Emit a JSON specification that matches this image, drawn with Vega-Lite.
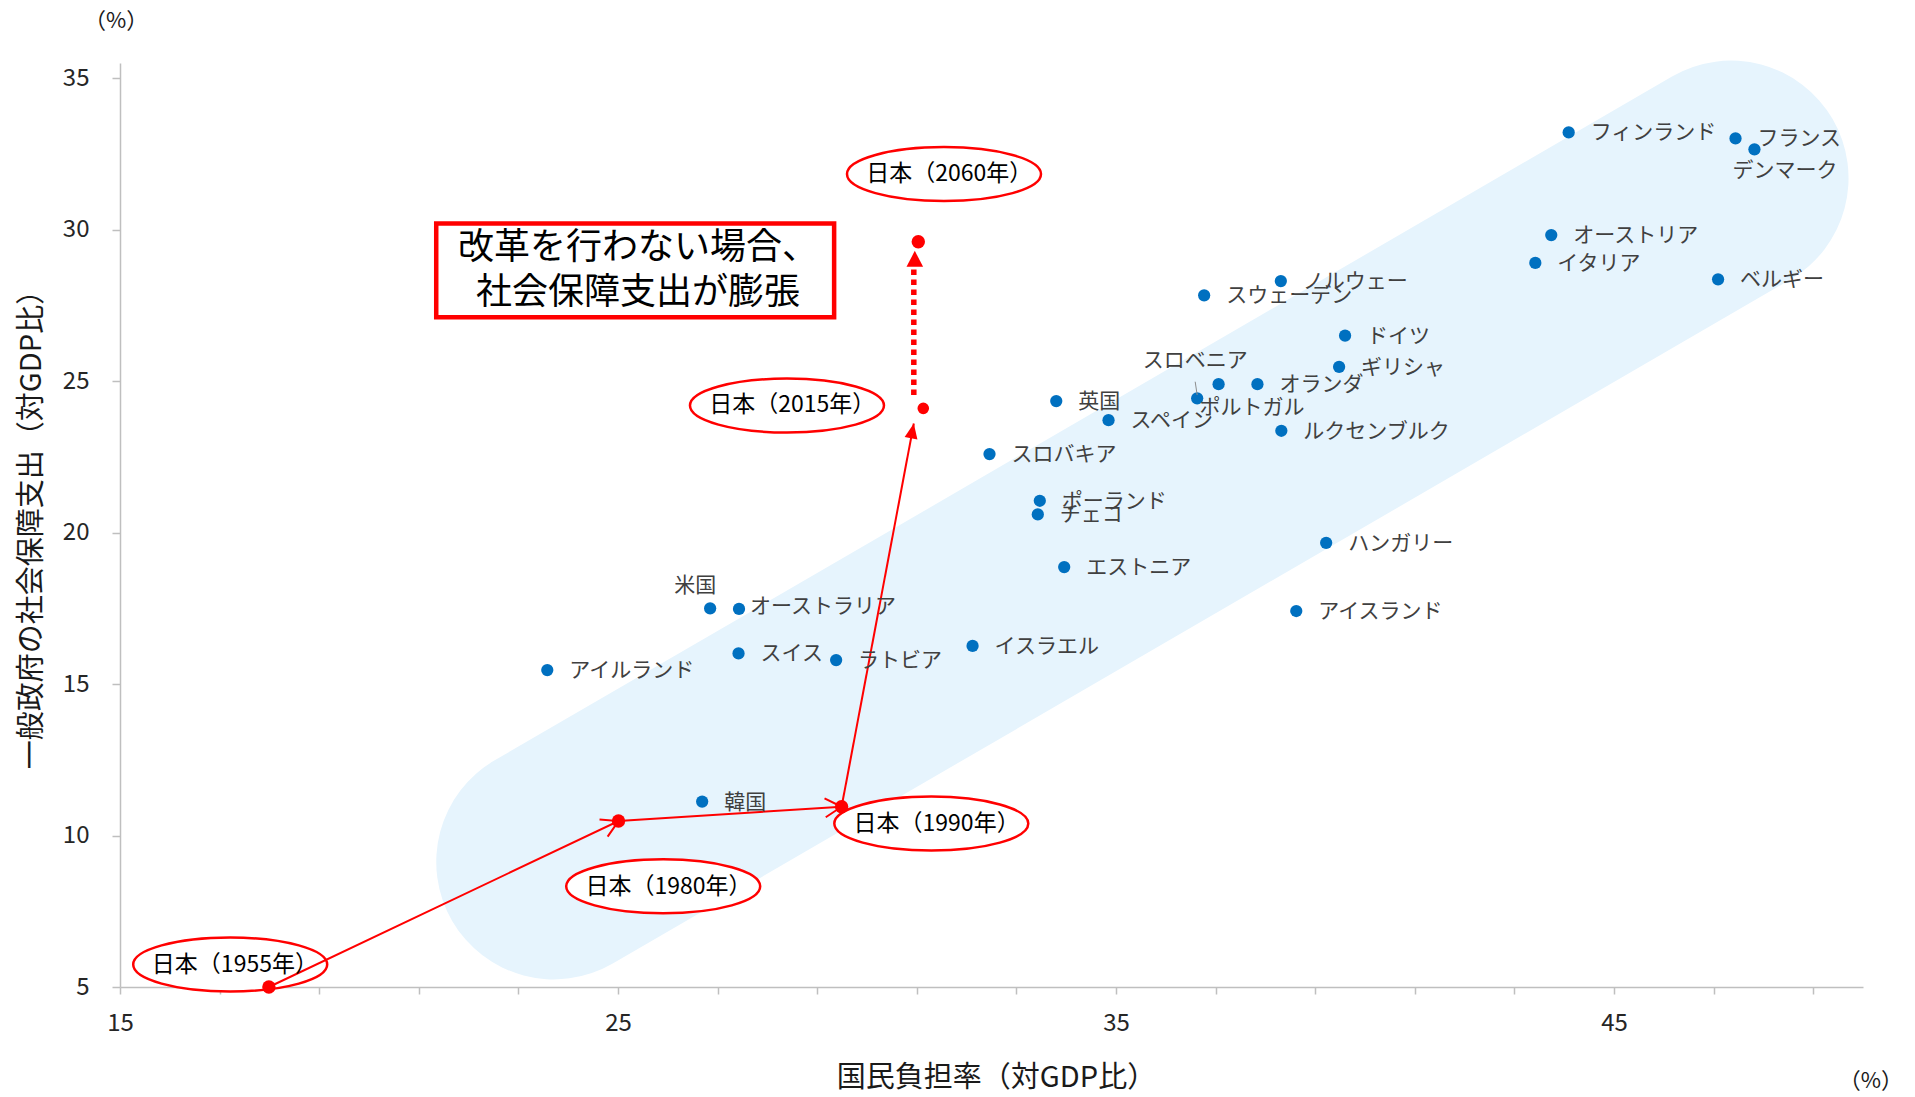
{
  "$schema": "https://vega.github.io/schema/vega-lite/v6.json",
  "width": 1743,
  "height": 924,
  "autosize": {"type": "none"},
  "padding": {"left": 120, "top": 63, "right": 52, "bottom": 110},
  "background": "white",
  "config": {"view": {"stroke": null}, "font": "Noto Sans CJK JP"},
  "datasets": {
    "countries": [
      {"name": "フィンランド", "burden": 44.09, "spending": 33.21},
      {"name": "フランス", "burden": 47.44, "spending": 33.01},
      {"name": "デンマーク", "burden": 47.82, "spending": 32.65},
      {"name": "オーストリア", "burden": 43.74, "spending": 29.82},
      {"name": "イタリア", "burden": 43.42, "spending": 28.90},
      {"name": "ベルギー", "burden": 47.09, "spending": 28.36},
      {"name": "ノルウェー", "burden": 38.31, "spending": 28.30},
      {"name": "スウェーデン", "burden": 36.77, "spending": 27.83},
      {"name": "ドイツ", "burden": 39.60, "spending": 26.50},
      {"name": "ギリシャ", "burden": 39.48, "spending": 25.47},
      {"name": "オランダ", "burden": 37.84, "spending": 24.90},
      {"name": "ポルトガル", "burden": 37.06, "spending": 24.90},
      {"name": "スロベニア", "burden": 36.63, "spending": 24.43},
      {"name": "英国", "burden": 33.80, "spending": 24.34},
      {"name": "スペイン", "burden": 34.85, "spending": 23.71},
      {"name": "ルクセンブルク", "burden": 38.32, "spending": 23.36},
      {"name": "スロバキア", "burden": 32.46, "spending": 22.59},
      {"name": "ポーランド", "burden": 33.47, "spending": 21.05},
      {"name": "チェコ", "burden": 33.43, "spending": 20.60},
      {"name": "ハンガリー", "burden": 39.22, "spending": 19.66},
      {"name": "エストニア", "burden": 33.96, "spending": 18.86},
      {"name": "アイスランド", "burden": 38.62, "spending": 17.41},
      {"name": "米国", "burden": 26.85, "spending": 17.50},
      {"name": "オーストラリア", "burden": 27.43, "spending": 17.48},
      {"name": "スイス", "burden": 27.42, "spending": 16.01},
      {"name": "ラトビア", "burden": 29.38, "spending": 15.79},
      {"name": "イスラエル", "burden": 32.12, "spending": 16.26},
      {"name": "アイルランド", "burden": 23.58, "spending": 15.46},
      {"name": "韓国", "burden": 26.69, "spending": 11.12}
    ],
    "japan": [
      {"year": 1955, "label": "日本（1955年）", "burden": 17.99, "spending": 5.0},
      {"year": 1980, "label": "日本（1980年）", "burden": 25.01, "spending": 10.48},
      {"year": 1990, "label": "日本（1990年）", "burden": 29.49, "spending": 10.95},
      {"year": 2015, "label": "日本（2015年）", "burden": 31.13, "spending": 24.10},
      {"year": 2060, "label": "日本（2060年）", "burden": 31.03, "spending": 29.60}
    ]
  },
  "layer": [
    {
      "data": {"name": "countries"},
      "mark": {"type": "circle", "opacity": 0},
      "encoding": {
        "x": {
          "field": "burden", "type": "quantitative",
          "scale": {"domain": [15, 50], "nice": false, "zero": false},
          "axis": {
            "values": [15, 17, 19, 21, 23, 25, 27, 29, 31, 33, 35, 37, 39, 41, 43, 45, 47, 49],
            "labelExpr": "(datum.value - 15) % 10 === 0 ? datum.label : ''",
            "grid": false, "domainColor": "#bfbfbf", "domainWidth": 1.5,
            "tickColor": "#bfbfbf", "tickWidth": 1.5, "tickSize": 7,
            "labelFontSize": 24, "labelColor": "#262626", "labelFont": "Noto Sans CJK JP",
            "labelPadding": 17, "labelFlush": false, "labelOverlap": false,
            "title": "国民負担率（対GDP比）", "titleFont": "Noto Sans CJK JP", "titleFontSize": 29,
            "titleFontWeight": "normal", "titleColor": "#1a1a1a",
            "titleX": 876, "titleY": 90, "titleAlign": "center", "titleBaseline": "middle"
          }
        },
        "y": {
          "field": "spending", "type": "quantitative",
          "scale": {"domain": [5, 35.5], "nice": false, "zero": false},
          "axis": {
            "values": [5, 10, 15, 20, 25, 30, 35],
            "grid": false, "domainColor": "#bfbfbf", "domainWidth": 1.5,
            "tickColor": "#bfbfbf", "tickWidth": 1.5, "tickSize": 8,
            "labelFontSize": 24, "labelColor": "#262626", "labelFont": "Noto Sans CJK JP",
            "labelPadding": 23, "labelFlush": false,
            "title": "一般政府の社会保障支出（対GDP比）", "titleFont": "Noto Sans CJK JP", "titleFontSize": 29,
            "titleFontWeight": "normal", "titleColor": "#1a1a1a",
            "titleX": -89, "titleY": 459, "titleAngle": -90, "titleAlign": "center", "titleBaseline": "middle"
          }
        }
      }
    },
    {
      "data": {"values": [{}]},
      "mark": {"type": "rule", "strokeWidth": 235, "strokeCap": "round", "color": "#e6f4fd"},
      "encoding": {
        "x": {"datum": 23.71, "type": "quantitative"},
        "y": {"datum": 9.13, "type": "quantitative"},
        "x2": {"datum": 47.35},
        "y2": {"datum": 31.70}
      }
    },
    {
      "data": {"name": "japan"},
      "mark": {"type": "point", "filled": true, "fill": "white", "stroke": "#ff0000", "strokeWidth": 2.5, "size": 40000, "opacity": 1, "fillOpacity": 1},
      "encoding": {
        "x": {"field": "burden", "type": "quantitative"},
        "y": {"field": "spending", "type": "quantitative"},
        "shape": {
          "field": "year", "type": "nominal", "legend": null,
          "scale": {
            "domain": [1955, 1980, 1990, 2015, 2060],
            "range": [
              "M 0.583 -0.225 C 0.583 -0.0759 0.1487 0.045 -0.387 0.045 C -0.9227 0.045 -1.357 -0.0759 -1.357 -0.225 C -1.357 -0.3741 -0.9227 -0.495 -0.387 -0.495 C 0.1487 -0.495 0.583 -0.3741 0.583 -0.225 Z",
              "M 1.417 0.653 C 1.417 0.8021 0.9827 0.923 0.447 0.923 C -0.0887 0.923 -0.523 0.8021 -0.523 0.653 C -0.523 0.5039 -0.0887 0.383 0.447 0.383 C 0.9827 0.383 1.417 0.5039 1.417 0.653 Z",
              "M 1.867 0.168 C 1.867 0.3171 1.4327 0.438 0.897 0.438 C 0.3613 0.438 -0.073 0.3171 -0.073 0.168 C -0.073 0.0189 0.3613 -0.102 0.897 -0.102 C 1.4327 -0.102 1.867 0.0189 1.867 0.168 Z",
              "M -0.393 -0.028 C -0.393 0.1211 -0.8273 0.242 -1.363 0.242 C -1.8987 0.242 -2.333 0.1211 -2.333 -0.028 C -2.333 -0.1771 -1.8987 -0.298 -1.363 -0.298 C -0.8273 -0.298 -0.393 -0.1771 -0.393 -0.028 Z",
              "M 1.227 -0.677 C 1.227 -0.5279 0.7927 -0.407 0.257 -0.407 C -0.2787 -0.407 -0.713 -0.5279 -0.713 -0.677 C -0.713 -0.8261 -0.2787 -0.947 0.257 -0.947 C 0.7927 -0.947 1.227 -0.8261 1.227 -0.677 Z"
            ]
          }
        }
      }
    },
    {
      "data": {"values": [{}]},
      "mark": {"type": "rect", "fill": "white", "stroke": "#ff0000", "strokeWidth": 4.5},
      "encoding": {
        "x": {"datum": 21.35, "type": "quantitative"},
        "x2": {"datum": 29.34},
        "y": {"datum": 30.20, "type": "quantitative"},
        "y2": {"datum": 27.11}
      }
    },
    {
      "data": {"values": [{}]},
      "mark": {"type": "text", "text": ["改革を行わない場合、", "社会保障支出が膨張"], "font": "Noto Sans CJK JP", "fontSize": 36, "lineHeight": 45, "align": "center", "baseline": "middle", "color": "#000000"},
      "encoding": {
        "x": {"datum": 25.40, "type": "quantitative"},
        "y": {"datum": 29.39, "type": "quantitative"}
      }
    },
    {
      "data": {"name": "japan"},
      "transform": [{"filter": "datum.year <= 1990"}],
      "mark": {"type": "line", "color": "#ff0000", "strokeWidth": 2},
      "encoding": {
        "x": {"field": "burden", "type": "quantitative"},
        "y": {"field": "spending", "type": "quantitative"},
        "order": {"field": "year"}
      }
    },
    {
      "data": {"values": [{}]},
      "mark": {"type": "rule", "color": "#ff0000", "strokeWidth": 2},
      "encoding": {
        "x": {"datum": 29.49, "type": "quantitative"},
        "y": {"datum": 10.95, "type": "quantitative"},
        "x2": {"datum": 30.94},
        "y2": {"datum": 23.60}
      }
    },
    {
      "data": {"values": [{}]},
      "mark": {"type": "rule", "color": "#ff0000", "strokeWidth": 5.5, "strokeDash": [5.5, 4.5]},
      "encoding": {
        "x": {"datum": 30.94, "type": "quantitative"},
        "y": {"datum": 24.54, "type": "quantitative"},
        "y2": {"datum": 28.77}
      }
    },
    {
      "data": {"values": [{}]},
      "mark": {"type": "point", "shape": "M 0 0 L 0.83 1.6 L -0.83 1.6 Z", "size": 400, "filled": true, "color": "#ff0000", "opacity": 1, "angle": 0},
      "encoding": {
        "x": {"datum": 30.96, "type": "quantitative"},
        "y": {"datum": 29.30, "type": "quantitative"}
      }
    },
    {
      "data": {"values": [{}]},
      "mark": {"type": "point", "shape": "M 0 0 L 0.65 1.5 L -0.65 1.5 Z", "size": 400, "filled": true, "color": "#ff0000", "opacity": 1, "angle": 10.67},
      "encoding": {
        "x": {"datum": 30.94, "type": "quantitative"},
        "y": {"datum": 23.60, "type": "quantitative"}
      }
    },
    {
      "data": {"name": "japan"},
      "transform": [{"filter": {"field": "year", "equal": 1980}}],
      "mark": {"type": "point", "shape": "M -0.95 1.65 L 0 0 L 0.95 1.65", "size": 400, "filled": false, "color": "#ff0000", "strokeWidth": 2, "opacity": 1, "angle": 64.73},
      "encoding": {
        "x": {"field": "burden", "type": "quantitative"},
        "y": {"field": "spending", "type": "quantitative"}
      }
    },
    {
      "data": {"name": "japan"},
      "transform": [{"filter": {"field": "year", "equal": 1990}}],
      "mark": {"type": "point", "shape": "M -0.95 1.65 L 0 0 L 0.95 1.65", "size": 400, "filled": false, "color": "#ff0000", "strokeWidth": 2, "opacity": 1, "angle": 86.34},
      "encoding": {
        "x": {"field": "burden", "type": "quantitative"},
        "y": {"field": "spending", "type": "quantitative"}
      }
    },
    {
      "data": {"name": "countries"},
      "mark": {"type": "circle", "color": "#0070c0", "size": 150, "opacity": 1},
      "encoding": {
        "x": {"field": "burden", "type": "quantitative"},
        "y": {"field": "spending", "type": "quantitative"}
      }
    },
    {
      "data": {"name": "japan"},
      "transform": [{"filter": "datum.year != 2015"}],
      "mark": {"type": "circle", "color": "#ff0000", "size": 180, "opacity": 1},
      "encoding": {
        "x": {"field": "burden", "type": "quantitative"},
        "y": {"field": "spending", "type": "quantitative"}
      }
    },
    {
      "data": {"name": "japan"},
      "transform": [{"filter": {"field": "year", "equal": 2015}}],
      "mark": {"type": "circle", "color": "#ff0000", "size": 135, "opacity": 1},
      "encoding": {
        "x": {"field": "burden", "type": "quantitative"},
        "y": {"field": "spending", "type": "quantitative"}
      }
    },
    {
      "data": {"name": "countries"},
      "transform": [{"filter": {"not": {"field": "name", "oneOf": ["米国", "オーストラリア", "デンマーク", "スロベニア", "ポルトガル"]}}}],
      "mark": {"type": "text", "font": "Noto Sans CJK JP", "fontSize": 21, "color": "#404040", "align": "left", "baseline": "middle", "dx": 22, "dy": 1},
      "encoding": {
        "x": {"field": "burden", "type": "quantitative"},
        "y": {"field": "spending", "type": "quantitative"},
        "text": {"field": "name"}
      }
    },
    {
      "data": {"name": "countries"},
      "transform": [{"filter": {"field": "name", "equal": "米国"}}],
      "mark": {"type": "text", "font": "Noto Sans CJK JP", "fontSize": 21, "color": "#404040", "align": "center", "baseline": "middle", "dx": -15, "dy": -22},
      "encoding": {
        "x": {"field": "burden", "type": "quantitative"},
        "y": {"field": "spending", "type": "quantitative"},
        "text": {"field": "name"}
      }
    },
    {
      "data": {"name": "countries"},
      "transform": [{"filter": {"field": "name", "equal": "オーストラリア"}}],
      "mark": {"type": "text", "font": "Noto Sans CJK JP", "fontSize": 21, "color": "#404040", "align": "left", "baseline": "middle", "dx": 11, "dy": -2},
      "encoding": {
        "x": {"field": "burden", "type": "quantitative"},
        "y": {"field": "spending", "type": "quantitative"},
        "text": {"field": "name"}
      }
    },
    {
      "data": {"name": "countries"},
      "transform": [{"filter": {"field": "name", "equal": "デンマーク"}}],
      "mark": {"type": "text", "font": "Noto Sans CJK JP", "fontSize": 21, "color": "#404040", "align": "left", "baseline": "middle", "dx": -22, "dy": 22},
      "encoding": {
        "x": {"field": "burden", "type": "quantitative"},
        "y": {"field": "spending", "type": "quantitative"},
        "text": {"field": "name"}
      }
    },
    {
      "data": {"name": "countries"},
      "transform": [{"filter": {"field": "name", "equal": "スロベニア"}}],
      "mark": {"type": "text", "font": "Noto Sans CJK JP", "fontSize": 21, "color": "#404040", "align": "center", "baseline": "middle", "dx": -2, "dy": -37},
      "encoding": {
        "x": {"field": "burden", "type": "quantitative"},
        "y": {"field": "spending", "type": "quantitative"},
        "text": {"field": "name"}
      }
    },
    {
      "data": {"name": "countries"},
      "transform": [{"filter": {"field": "name", "equal": "ポルトガル"}}],
      "mark": {"type": "text", "font": "Noto Sans CJK JP", "fontSize": 21, "color": "#404040", "align": "left", "baseline": "middle", "dx": -19, "dy": 24},
      "encoding": {
        "x": {"field": "burden", "type": "quantitative"},
        "y": {"field": "spending", "type": "quantitative"},
        "text": {"field": "name"}
      }
    },
    {
      "data": {"values": [{}]},
      "mark": {"type": "rule", "color": "#8c8c8c", "strokeWidth": 1},
      "encoding": {
        "x": {"datum": 36.59, "type": "quantitative"},
        "y": {"datum": 24.98, "type": "quantitative"},
        "x2": {"datum": 36.63},
        "y2": {"datum": 24.54}
      }
    },
    {
      "data": {"name": "japan"},
      "transform": [{"filter": {"field": "year", "equal": 1955}}],
      "mark": {"type": "text", "font": "Noto Sans CJK JP", "fontSize": 23, "color": "#000000", "align": "center", "baseline": "middle", "dx": -34, "dy": -22},
      "encoding": {
        "x": {"field": "burden", "type": "quantitative"},
        "y": {"field": "spending", "type": "quantitative"},
        "text": {"field": "label"}
      }
    },
    {
      "data": {"name": "japan"},
      "transform": [{"filter": {"field": "year", "equal": 1980}}],
      "mark": {"type": "text", "font": "Noto Sans CJK JP", "fontSize": 23, "color": "#000000", "align": "center", "baseline": "middle", "dx": 50, "dy": 66},
      "encoding": {
        "x": {"field": "burden", "type": "quantitative"},
        "y": {"field": "spending", "type": "quantitative"},
        "text": {"field": "label"}
      }
    },
    {
      "data": {"name": "japan"},
      "transform": [{"filter": {"field": "year", "equal": 1990}}],
      "mark": {"type": "text", "font": "Noto Sans CJK JP", "fontSize": 23, "color": "#000000", "align": "center", "baseline": "middle", "dx": 95, "dy": 17},
      "encoding": {
        "x": {"field": "burden", "type": "quantitative"},
        "y": {"field": "spending", "type": "quantitative"},
        "text": {"field": "label"}
      }
    },
    {
      "data": {"name": "japan"},
      "transform": [{"filter": {"field": "year", "equal": 2015}}],
      "mark": {"type": "text", "font": "Noto Sans CJK JP", "fontSize": 23, "color": "#000000", "align": "center", "baseline": "middle", "dx": -131, "dy": -3},
      "encoding": {
        "x": {"field": "burden", "type": "quantitative"},
        "y": {"field": "spending", "type": "quantitative"},
        "text": {"field": "label"}
      }
    },
    {
      "data": {"name": "japan"},
      "transform": [{"filter": {"field": "year", "equal": 2060}}],
      "mark": {"type": "text", "font": "Noto Sans CJK JP", "fontSize": 23, "color": "#000000", "align": "center", "baseline": "middle", "dx": 31, "dy": -68},
      "encoding": {
        "x": {"field": "burden", "type": "quantitative"},
        "y": {"field": "spending", "type": "quantitative"},
        "text": {"field": "label"}
      }
    },
    {
      "data": {"values": [{}]},
      "mark": {"type": "text", "text": "（%）", "font": "Noto Sans CJK JP", "fontSize": 22, "color": "#1a1a1a", "align": "center", "baseline": "middle"},
      "encoding": {
        "x": {"datum": 14.92, "type": "quantitative", "scale": {"domain": [15, 50], "nice": false, "zero": false}},
        "y": {"datum": 36.88, "type": "quantitative", "scale": {"domain": [5, 35.5], "nice": false, "zero": false}}
      }
    },
    {
      "data": {"values": [{}]},
      "mark": {"type": "text", "text": "（%）", "font": "Noto Sans CJK JP", "fontSize": 22, "color": "#1a1a1a", "align": "center", "baseline": "middle"},
      "encoding": {
        "x": {"datum": 50.16, "type": "quantitative", "scale": {"domain": [15, 50], "nice": false, "zero": false}},
        "y": {"datum": 1.9, "type": "quantitative", "scale": {"domain": [5, 35.5], "nice": false, "zero": false}}
      }
    }
  ]
}
